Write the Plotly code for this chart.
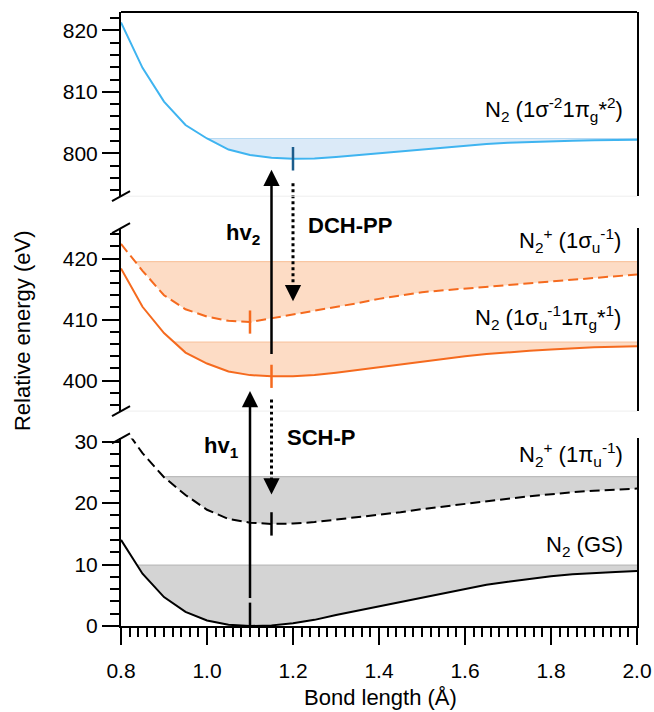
import plotly.graph_objects as go

# ---------------- data ----------------
bond = [0.80, 0.85, 0.90, 0.95, 1.00, 1.05, 1.10, 1.15, 1.20, 1.25, 1.30, 1.35, 1.40,
        1.45, 1.50, 1.55, 1.60, 1.65, 1.70, 1.75, 1.80, 1.85, 1.90, 1.95, 2.00]

# N2 (GS)
e_gs = [14.0, 8.5, 4.7, 2.3, 0.9, 0.2, 0.0, 0.1, 0.45, 1.0, 1.8, 2.5, 3.2,
        4.0, 4.7, 5.4, 6.1, 6.7, 7.2, 7.7, 8.1, 8.4, 8.65, 8.8, 8.95]
# N2+ (1pi_u^-1)
e_ion_pi = [33.0, 28.1, 24.2, 21.3, 18.9, 17.4, 16.8, 16.6, 16.65, 16.9, 17.3, 17.7, 18.0,
            18.5, 19.0, 19.45, 19.9, 20.3, 20.7, 21.1, 21.45, 21.75, 22.0, 22.2, 22.35]
# N2 (1sigma_u^-1 1pi_g*^1)
e_core_exc = [418.4, 412.1, 407.8, 404.6, 402.8, 401.5, 400.9, 400.7, 400.7, 400.9, 401.3,
              401.75, 402.2, 402.7, 403.15, 403.6, 404.0, 404.35, 404.65, 404.9, 405.1,
              405.3, 405.45, 405.55, 405.65]
# N2+ (1sigma_u^-1)
e_core_ion = [422.4, 418.0, 414.0, 411.7, 410.5, 409.8, 409.6, 410.2, 410.8, 411.4, 412.0,
              412.7, 413.4, 414.0, 414.5, 414.8, 415.1, 415.4, 415.7, 416.0, 416.3, 416.6,
              416.9, 417.15, 417.4]
# N2 (1sigma^-2 1pi_g*^2)
e_dch = [821.3, 813.9, 808.4, 804.6, 802.4, 800.6, 799.7, 799.25, 799.1, 799.15, 799.4,
         799.7, 800.0, 800.35, 800.7, 801.0, 801.3, 801.5, 801.7, 801.85, 801.95, 802.05,
         802.1, 802.15, 802.2]

# dissociation / shaded levels
lvl_gs, lvl_ion_pi, lvl_core_exc, lvl_core_ion, lvl_dch = 9.9, 24.3, 406.3, 419.5, 802.4

# equilibrium markers (x, energy)
eq_x = [1.20, 1.10, 1.15, 1.15, 1.10]
eq_e = [799.1, 409.6, 400.7, 16.6, 1.9]

# transitions: x, start energy, end energy
hv1 = (1.10, 4.3, 398.8)
hv2 = (1.15, 404.1, 797.8)
dchpp = (1.20, 795.1, 412.5)
schp = (1.15, 396.9, 20.9)

x_ticks = [0.8, 1.0, 1.2, 1.4, 1.6, 1.8, 2.0]
x_mid_ticks = [0.9, 1.1, 1.3, 1.5, 1.7, 1.9]

# ---------------- style ----------------
FONT = "Liberation Sans, Arial, sans-serif"
BLUE, BLUE_FILL, BLUE_EDGE, BLUE_DARK = "#3fb4f0", "#dbeaf8", "#b5d9f3", "#1c5d8c"
ORANGE, ORANGE_FILL, ORANGE_EDGE = "#f56a1e", "#fddcc5", "#f9c6a2"
GREY_FILL, GREY_EDGE = "#d4d4d4", "#bcbcbc"
PLOT_H = 614  # plot-area height in px

PANELS = {
    "y": dict(domain=[0.0, 0.3055], range=[0, 30.5]),
    "y2": dict(domain=[0.35, 0.648], range=[395, 425]),
    "y3": dict(domain=[0.70, 1.0], range=[793, 823]),
}


def to_paper(ax, v):
    d0, d1 = PANELS[ax]["domain"]
    r0, r1 = PANELS[ax]["range"]
    return d0 + (v - r0) / (r1 - r0) * (d1 - d0)


fig = go.Figure()


def add_fill(ys, level, ax, fill, edge):
    i = next(k for k in range(len(ys)) if ys[k] <= level)
    x0, x1, y0, y1 = bond[i - 1], bond[i], ys[i - 1], ys[i]
    xc = x0 + (level - y0) / (y1 - y0) * (x1 - x0)
    px = [xc] + bond[i:] + [bond[-1], xc]
    py = [level] + ys[i:] + [level, level]
    fig.add_trace(go.Scatter(x=px, y=py, yaxis=ax, fill="toself", fillcolor=fill,
                             line=dict(width=0), mode="lines", hoverinfo="skip"))
    fig.add_trace(go.Scatter(x=[xc, bond[-1]], y=[level, level], yaxis=ax, mode="lines",
                             line=dict(color=edge, width=1.2), hoverinfo="skip"))


add_fill(e_gs, lvl_gs, "y", GREY_FILL, GREY_EDGE)
add_fill(e_ion_pi, lvl_ion_pi, "y", GREY_FILL, GREY_EDGE)
add_fill(e_core_exc, lvl_core_exc, "y2", ORANGE_FILL, ORANGE_EDGE)
add_fill(e_core_ion, lvl_core_ion, "y2", ORANGE_FILL, ORANGE_EDGE)
add_fill(e_dch, lvl_dch, "y3", BLUE_FILL, BLUE_EDGE)

DASH = "10px,5px"
curves = [
    (e_gs, "y", "black", "solid"),
    (e_ion_pi, "y", "black", DASH),
    (e_core_exc, "y2", ORANGE, "solid"),
    (e_core_ion, "y2", ORANGE, DASH),
    (e_dch, "y3", BLUE, "solid"),
]
for ys, ax, col, dash in curves:
    fig.add_trace(go.Scatter(x=bond, y=ys, yaxis=ax, mode="lines",
                             line=dict(color=col, width=2, dash=dash)))

# equilibrium ticks
tick_ax = ["y3", "y2", "y2", "y", "y"]
tick_col = [BLUE_DARK, ORANGE, ORANGE, "black", "black"]
tick_half = [1.9, 1.9, 1.9, 1.9, 1.9]
for xv, ev, ax, col, h in zip(eq_x, eq_e, tick_ax, tick_col, tick_half):
    fig.add_trace(go.Scatter(x=[xv, xv], y=[ev - h, ev + h], yaxis=ax, mode="lines",
                             line=dict(color=col, width=2.5)))

# transitions (drawn on a full-height helper axis y4 in paper units)
ARW = dict(arrowhead=2, arrowsize=1.3, arrowwidth=2.5, arrowcolor="black", standoff=3,
           showarrow=True, text="")
annotations = []
for (xv, e0, e1), a0, a1 in [(hv1, "y", "y2"), (hv2, "y2", "y3")]:
    annotations.append(dict(x=xv, y=to_paper(a1, e1), ax=xv, ay=to_paper(a0, e0),
                            xref="x", yref="y4", axref="x", ayref="y4", **ARW))
for (xv, e0, e1), a0, a1 in [(dchpp, "y3", "y2"), (schp, "y2", "y")]:
    p0, p1 = to_paper(a0, e0), to_paper(a1, e1)
    fig.add_trace(go.Scatter(x=[xv, xv], y=[p0, p1 + 12 / PLOT_H], yaxis="y4", mode="lines",
                             line=dict(color="black", width=3, dash="dot")))
    annotations.append(dict(x=xv, y=p1, ax=0, ay=-10, xref="x", yref="y4",
                            axref="pixel", ayref="pixel", **ARW))

# text labels
LBL = dict(showarrow=False, xref="paper", yref="paper",
           font=dict(family=FONT, size=22, color="black"))
labels = [
    ("N<sub>2</sub> (1σ<sup>-2</sup>1π<sub>g</sub>*<sup>2</sup>)", 0.977, 0.8404),
    ("N<sub>2</sub><sup>+</sup> (1σ<sub>u</sub><sup>-1</sup>)", 0.973, 0.6279),
    ("N<sub>2</sub> (1σ<sub>u</sub><sup>-1</sup>1π<sub>g</sub>*<sup>1</sup>)", 0.973, 0.5024),
    ("N<sub>2</sub><sup>+</sup> (1π<sub>u</sub><sup>-1</sup>)", 0.977, 0.2801),
    ("N<sub>2</sub> (GS)", 0.977, 0.1311),
]
for t, xp, yp in labels:
    annotations.append(dict(text=t, x=xp, y=yp, xanchor="right", yanchor="middle", **LBL))
bold = [
    ("<b>hv<sub>2</sub></b>", 0.2364, 0.6384),
    ("<b>DCH-PP</b>", 0.4438, 0.6515),
    ("<b>hv<sub>1</sub></b>", 0.1938, 0.2915),
    ("<b>SCH-P</b>", 0.3876, 0.3062),
]
for t, xp, yp in bold:
    annotations.append(dict(text=t, x=xp, y=yp, xanchor="center", yanchor="middle", **LBL))

annotations.append(dict(text="Relative energy (eV)", x=-0.1919, y=0.482, textangle=-90,
                        xanchor="center", yanchor="middle", **LBL))
annotations.append(dict(text="Bond length (Å)", x=0.502, y=-0.117,
                        xanchor="center", yanchor="middle", **LBL))

# frame decorations and axis break marks
shapes = [
    dict(type="line", xref="paper", yref="paper", x0=0, x1=1, y0=1, y1=1,
         line=dict(color="black", width=2)),
    dict(type="line", xref="paper", yref="y3 domain", x0=0, x1=1, y0=0, y1=0,
         line=dict(color="#eeeeee", width=1)),
    dict(type="line", xref="paper", yref="y2 domain", x0=0, x1=1, y0=0, y1=0,
         line=dict(color="#eeeeee", width=1)),
]
for ax, yv in [("y3", 0), ("y2", 1), ("y2", 0), ("y", 1)]:
    shapes.append(dict(type="line", xref="paper", yref=f"{ax} domain",
                       xsizemode="pixel", xanchor=0, x0=-9, x1=9,
                       ysizemode="pixel", yanchor=yv, y0=-5, y1=5,
                       line=dict(color="black", width=2)))

YAX = dict(showline=True, linecolor="black", linewidth=2, mirror=True, ticks="outside",
           ticklen=17, tickwidth=2, tickcolor="black", dtick=10, showgrid=False,
           zeroline=False, anchor="x", tickfont=dict(family=FONT, size=21, color="black"),
           minor=dict(dtick=2, ticklen=9, tickwidth=2, tickcolor="black", ticks="outside"))

layout = dict(
    width=654, height=712, margin=dict(l=121, r=17, t=12, b=86, autoexpand=False),
    paper_bgcolor="white", plot_bgcolor="rgba(0,0,0,0)", showlegend=False,
    font=dict(family=FONT, size=21, color="black"),
    xaxis=dict(range=[0.8, 2.0], anchor="y", showline=True, linecolor="black", linewidth=2,
               ticks="outside", tickvals=x_ticks, ticklen=17, tickwidth=2, tickcolor="black",
               tickformat=".1f", showgrid=False, zeroline=False, ticklabelstandoff=8,
               tickfont=dict(family=FONT, size=21, color="black"),
               minor=dict(dtick=0.02, tick0=0.8, ticklen=9, tickwidth=2, tickcolor="black",
                          ticks="outside")),
    xaxis2=dict(range=[0.8, 2.0], overlaying="x", anchor="y", side="bottom",
                tickvals=x_mid_ticks, ticks="outside", ticklen=12, tickwidth=2,
                tickcolor="black", showticklabels=False, showline=False, showgrid=False,
                zeroline=False),
    yaxis=dict(domain=PANELS["y"]["domain"], range=PANELS["y"]["range"], **YAX),
    yaxis2=dict(domain=PANELS["y2"]["domain"], range=PANELS["y2"]["range"], **YAX),
    yaxis3=dict(domain=PANELS["y3"]["domain"], range=PANELS["y3"]["range"], **YAX),
    yaxis4=dict(domain=[0, 1], range=[0, 1], anchor="x", visible=False, fixedrange=True),
    annotations=annotations, shapes=shapes,
)
fig.update_layout(**layout)
fig.write_html(
    "out.html",
    config={"displayModeBar": False},
    post_script="document.body.style.margin='0px';"
                "document.documentElement.style.overflow='hidden';",
)
